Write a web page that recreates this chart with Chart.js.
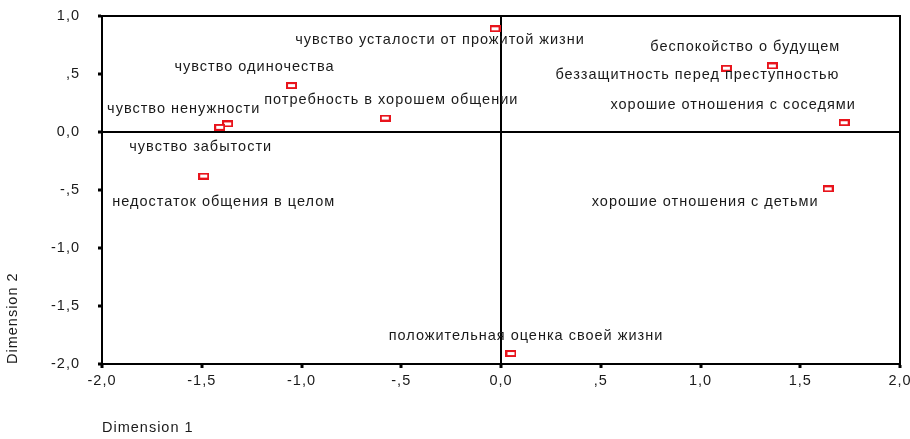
<!DOCTYPE html>
<html>
<head>
<meta charset="utf-8">
<script src="https://cdn.jsdelivr.net/npm/chart.js@4.4.1/dist/chart.umd.min.js"></script>
<style>
    body { margin: 0; background: #fff; }
    #wrap { width: 910px; height: 439px; }
</style>
</head>
<body>
<div id="wrap"><canvas id="mapChart" width="910" height="439"></canvas></div>
<script>
// DATA

const pointLabels = [
    'чувство усталости от прожитой жизни',
    'чувство одиночества',
    'потребность в хорошем общении',
    'чувство ненужности',
    'чувство забытости',
    'недостаток общения в целом',
    'беспокойство о будущем',
    'беззащитность перед преступностью',
    'хорошие отношения с соседями',
    'хорошие отношения с детьми',
    'положительная оценка своей жизни'
];
const dim1Values = [-0.03, -1.05, -0.58, -1.37, -1.41, -1.49, 1.36, 1.13, 1.72, 1.64, 0.05];
const dim2Values = [0.89, 0.40, 0.12, 0.07, 0.04, -0.38, 0.57, 0.55, 0.08, -0.49, -1.91];

const xTickLabels = ['-2,0', '-1,5', '-1,0', '-,5', '0,0', ',5', '1,0', '1,5', '2,0'];
const yTickLabels = ['-2,0', '-1,5', '-1,0', '-,5', '0,0', ',5', '1,0'];

// label placement relative to each point (centre of text)
const labelOffsets = [
    [-55, 11], [-37, -19], [6, -18], [-44, -15], [-19, 20], [20, 26],
    [-27, -19], [-29, 7], [-111, -18], [-123, 13], [15, -18]
];

const textColor = '#1a1a1a';
const fontFamily = '"Liberation Sans", Arial, Helvetica, sans-serif';
const fontSize = 14.5;
const spacing = '1px';

// small hollow red rectangle used as marker
function makeMarker() {
    const c = document.createElement('canvas');
    c.width = 11;
    c.height = 7;
    const g = c.getContext('2d');
    g.fillStyle = '#fff';
    g.fillRect(0, 0, 11, 7);
    g.strokeStyle = '#e8141c';
    g.lineWidth = 2;
    g.strokeRect(1, 1, 9, 5);
    return c;
}

const points = dim1Values.map((x, i) => ({ x: x, y: dim2Values[i] }));

// PLUGINS

const spacingPlugin = {
    id: 'spacing',
    beforeDraw(chart) {
        chart.ctx.letterSpacing = spacing;
    }
};

const framePlugin = {
    id: 'frame',
    afterDatasetsDraw(chart) {
        const a = chart.chartArea;
        const ctx = chart.ctx;
        ctx.save();
        ctx.strokeStyle = '#000';
        ctx.lineWidth = 2;
        ctx.strokeRect(a.left, a.top, a.right - a.left, a.bottom - a.top);
        ctx.restore();
    }
};

const labelPlugin = {
    id: 'pointText',
    afterDatasetsDraw(chart) {
        const ctx = chart.ctx;
        const meta = chart.getDatasetMeta(0);
        ctx.save();
        ctx.letterSpacing = spacing;
        ctx.font = fontSize + 'px ' + fontFamily;
        ctx.fillStyle = textColor;
        ctx.textAlign = 'center';
        ctx.textBaseline = 'middle';
        meta.data.forEach((pt, i) => {
            const off = labelOffsets[i];
            ctx.fillText(pointLabels[i], pt.x + off[0], pt.y + off[1]);
        });
        ctx.restore();
    }
};

// CHART

window.onload = function () {

    const ctx = document.getElementById('mapChart').getContext('2d');

    new Chart(ctx, {
        type: 'scatter',
        data: {
            datasets: [{
                label: 'Points',
                data: points,
                pointStyle: makeMarker(),
                pointRadius: 5
            }]
        },
        options: {
            responsive: false,
            animation: false,
            layout: {
                padding: { left: 0, top: 16, right: 10, bottom: 0 }
            },
            plugins: {
                legend: { display: false },
                tooltip: { enabled: false }
            },
            scales: {
                x: {
                    type: 'linear',
                    min: -2,
                    max: 2,
                    afterFit(scale) {
                        scale.height = 75;
                        scale.paddingLeft = 0;
                        scale.paddingRight = 0;
                    },
                    ticks: {
                        stepSize: 0.5,
                        color: textColor,
                        font: { family: fontFamily, size: fontSize },
                        padding: 4,
                        maxRotation: 0,
                        callback: (v, i) => xTickLabels[i]
                    },
                    grid: {
                        drawOnChartArea: true,
                        color: c => (c.tick && c.tick.value === 0) ? '#000' : 'rgba(0,0,0,0)',
                        lineWidth: 2,
                        tickColor: '#000',
                        tickWidth: 3,
                        tickLength: 4
                    },
                    border: { color: '#000', width: 2 },
                    title: {
                        display: true,
                        text: 'Dimension 1',
                        align: 'start',
                        color: textColor,
                        font: { family: fontFamily, size: fontSize },
                        padding: { top: 0, bottom: 2 }
                    }
                },
                y: {
                    type: 'linear',
                    min: -2,
                    max: 1,
                    afterFit(scale) {
                        scale.width = 102;
                        scale.paddingTop = 0;
                        scale.paddingBottom = 0;
                    },
                    ticks: {
                        stepSize: 0.5,
                        color: textColor,
                        font: { family: fontFamily, size: fontSize },
                        padding: 18,
                        callback: (v, i) => yTickLabels[i]
                    },
                    grid: {
                        drawOnChartArea: true,
                        color: c => (c.tick && c.tick.value === 0) ? '#000' : 'rgba(0,0,0,0)',
                        lineWidth: 2,
                        tickColor: '#000',
                        tickWidth: 3,
                        tickLength: 4
                    },
                    border: { color: '#000', width: 2 },
                    title: {
                        display: true,
                        text: 'Dimension 2',
                        align: 'start',
                        color: textColor,
                        font: { family: fontFamily, size: fontSize },
                        padding: { top: 4, bottom: 0 }
                    }
                }
            }
        },
        plugins: [spacingPlugin, framePlugin, labelPlugin]
    });
};
</script>
</body>
</html>
